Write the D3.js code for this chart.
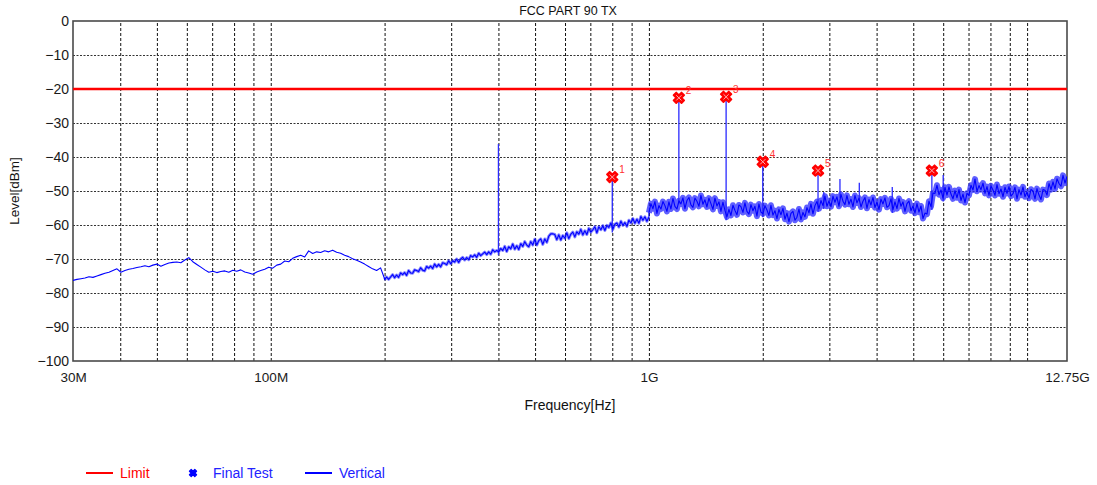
<!DOCTYPE html>
<html>
<head>
<meta charset="utf-8">
<script src="https://cdn.jsdelivr.net/npm/d3@7"></script>
<style>
  html, body { margin: 0; padding: 0; background: #ffffff; }
  svg { display: block; font-family: Arial, "Liberation Sans", sans-serif; }
</style>
</head>
<body>
<svg id="chart" width="1097" height="485"></svg>
<script>
// ---- Chart data ----------------------------------------------------------
const chartTitle = "FCC PART 90 TX";
const limitLevel = -20;                       // dBm

const yTickValues = [0, -10, -20, -30, -40, -50, -60, -70, -80, -90, -100];
const xTickHz     = [30e6, 100e6, 1e9, 12.75e9];
const xTickLabels = ["30M", "100M", "1G", "12.75G"];
const gridMHz     = [40, 50, 60, 70, 80, 90, 100, 200, 300, 400, 500, 600, 700, 800, 900,
                     1000, 2000, 3000, 4000, 5000, 6000, 7000, 8000, 9000, 10000];

// Sweep segments (start/stop MHz); points are spread evenly on the log axis.
const sweepLowRange  = [30, 200];
const sweepMidRange  = [200, 1000];
const sweepHighRange = [1000, 12750];

// 30 MHz - 200 MHz trace levels (dBm)
const sweepLowLevels = [
  -76.3, -76.0, -75.8, -75.6, -75.2, -75.4, -75.0, -74.6, -74.2, -73.9,
  -73.4, -72.9, -73.9, -73.4, -73.0, -72.8, -72.5, -72.3, -72.0, -72.3,
  -71.8, -71.5, -72.1, -71.6, -71.2, -71.0, -70.9, -71.1, -70.3, -69.6,
  -70.8, -71.6, -72.4, -73.2, -73.9, -73.6, -74.0, -73.7, -73.5, -73.9,
  -73.3, -73.6, -73.2, -73.8, -74.1, -74.5, -73.8, -73.4, -73.0, -72.4,
  -72.7, -71.8, -71.5, -70.6, -70.8, -69.8, -69.3, -68.9, -69.4, -67.6,
  -68.4, -67.9, -68.1, -67.6, -67.9, -67.4, -68.0, -68.3, -68.9, -69.3,
  -69.9, -70.4, -70.9, -71.5, -72.2, -72.9, -73.4, -72.6, -75.8
];

// 200 MHz - 1 GHz trace levels (dBm)
const sweepMidLevels = [
  -76.1, -75.3, -76.0, -75.3, -74.6, -75.5, -74.7, -75.4, -74.1, -74.6,
  -74.0, -74.8, -73.4, -74.1, -74.2, -73.2, -73.4, -73.7, -72.6, -73.3,
  -73.5, -72.2, -72.7, -72.1, -72.8, -71.5, -72.3, -71.6, -72.3, -71.1,
  -71.3, -71.7, -70.5, -71.4, -70.5, -70.9, -70.0, -71.0, -70.0, -69.5,
  -70.3, -69.6, -70.2, -69.0, -69.4, -68.8, -69.5, -68.3, -69.0, -68.5,
  -68.0, -68.7, -67.9, -68.6, -67.3, -67.9, -67.5, -67.9, -66.9, -67.5,
  -66.3, -67.8, -66.4, -67.0, -65.6, -67.1, -66.1, -67.2, -65.5, -66.3,
  -64.9, -65.9, -66.4, -64.9, -65.9, -64.2, -65.9, -64.6, -64.1, -65.7,
  -64.1, -65.1, -63.3, -62.6, -62.6, -62.8, -64.3, -62.9, -64.4, -63.1,
  -63.9, -62.3, -64.0, -62.7, -62.1, -63.5, -62.0, -62.7, -61.3, -62.9,
  -61.7, -62.8, -61.0, -62.1, -61.4, -60.5, -62.3, -60.5, -61.4, -60.2,
  -61.6, -60.1, -60.7, -59.4, -61.2, -59.8, -59.4, -60.6, -58.9, -60.1,
  -59.3, -60.4, -58.6, -59.4, -58.1, -59.5, -58.3, -59.5, -57.5, -58.6,
  -57.6, -58.9, -57.7
];

// 1 GHz - 12.75 GHz trace levels (dBm)
const sweepHighLevels = [
  -56.4, -53.7, -55.2, -53.1, -56.6, -54.3, -55.3, -53.1, -54.3, -56.0,
  -53.2, -55.3, -52.2, -54.5, -55.3, -52.9, -53.8, -52.0, -55.2, -52.8,
  -51.9, -54.1, -54.8, -52.1, -53.0, -54.5, -51.3, -53.9, -52.6, -54.7,
  -52.1, -53.7, -55.4, -52.1, -54.4, -53.2, -56.0, -53.3, -55.7, -57.6,
  -55.4, -57.2, -54.2, -55.7, -57.0, -54.1, -54.6, -56.3, -53.5, -56.0,
  -56.8, -54.0, -55.8, -54.5, -57.4, -53.8, -56.2, -56.7, -54.3, -55.6,
  -57.2, -54.2, -57.1, -55.8, -58.1, -55.4, -57.0, -55.1, -58.3, -56.5,
  -59.0, -56.6, -56.0, -58.6, -57.7, -55.3, -58.4, -56.3, -57.6, -54.9,
  -56.4, -53.8, -56.7, -54.3, -53.1, -55.2, -52.8, -54.3, -51.5, -54.5,
  -52.9, -54.6, -51.5, -53.3, -51.7, -54.5, -51.0, -53.0, -54.0, -51.3,
  -53.9, -52.4, -54.7, -51.3, -53.5, -52.1, -54.7, -53.0, -51.9, -55.1,
  -52.5, -54.1, -51.9, -54.9, -53.2, -55.5, -52.4, -53.8, -52.0, -54.8,
  -54.3, -52.3, -55.5, -53.2, -55.2, -52.2, -54.5, -53.2, -56.0, -53.7,
  -53.0, -55.8, -54.4, -56.5, -53.7, -56.2, -54.4, -58.1, -56.5, -56.8,
  -53.0, -54.6, -50.6, -50.7, -48.3, -51.1, -49.7, -52.1, -48.9, -51.2,
  -48.8, -50.9, -52.3, -49.9, -52.0, -49.6, -52.8, -50.9, -53.4, -50.7,
  -51.3, -48.3, -49.7, -46.5, -50.1, -48.4, -49.6, -47.7, -50.7, -48.7,
  -51.3, -48.5, -49.7, -51.3, -48.1, -50.8, -49.4, -51.7, -48.9, -50.7,
  -48.7, -51.5, -50.8, -48.9, -52.3, -49.6, -51.2, -48.8, -51.7, -50.3,
  -52.1, -49.5, -50.0, -52.3, -49.3, -51.2, -52.5, -49.6, -49.8, -51.2,
  -47.8, -49.6, -47.3, -49.4, -46.4, -47.8, -48.6, -45.4, -47.7, -45.7
];

// Narrow-band emissions standing out of the noise floor
const spurMHz   = [400, 800, 1200, 1600, 2000, 2800, 2900, 3200, 3600, 4400, 5600, 6000];
const spurLevel = [-36.2, -45.9, -22.6, -22.3, -41.4, -44.0, -50.3, -46.5, -47.6, -48.8, -44.0, -45.3];

// Final test points
const finalMHz    = [800, 1200, 1600, 2000, 2800, 5600];
const finalLevel  = [-45.9, -22.6, -22.3, -41.4, -44.0, -44.0];
const finalLabels = ["1", "2", "3", "4", "5", "6"];

const legendNames = ["Limit", "Final Test", "Vertical"];

// ---- Layout ----------------------------------------------------------------
const plot = { left: 73, right: 1067, top: 21, bottom: 361 };
const RED = "#ff0000", BLUE = "#0000ff";

const svg = d3.select("#chart");

const x = d3.scaleLog().domain([30e6, 12.75e9]).range([plot.left, plot.right]);
const y = d3.scaleLinear().domain([-100, 0]).range([plot.bottom, plot.top]);

// Build the trace from the sweep segments
function sweepPoints(range, levels) {
  const [f0, f1] = range;
  const n = levels.length;
  return levels.map((lv, i) => ({ f: f0 * Math.pow(f1 / f0, i / (n - 1)) * 1e6, v: lv }));
}
const lowPts  = sweepPoints(sweepLowRange, sweepLowLevels);
const midPts  = sweepPoints(sweepMidRange, sweepMidLevels);
const highPts = sweepPoints(sweepHighRange, sweepHighLevels);
const trace = [...lowPts, ...midPts, ...highPts];

// ---- Grid ------------------------------------------------------------------
const gridG = svg.append("g");
gridG.append("g")
  .attr("transform", `translate(0,${plot.bottom})`)
  .call(d3.axisBottom(x).tickValues(gridMHz.map(d => d * 1e6))
    .tickSize(-(plot.bottom - plot.top)).tickFormat(""))
  .call(g => g.select(".domain").remove())
  .call(g => g.selectAll("line")
    .attr("stroke", "#111").attr("stroke-width", 1).attr("stroke-dasharray", "3,2"));

gridG.append("g")
  .attr("transform", `translate(${plot.left},0)`)
  .call(d3.axisLeft(y).tickValues(yTickValues.filter(v => v > -100 && v < 0))
    .tickSize(-(plot.right - plot.left)).tickFormat(""))
  .call(g => g.select(".domain").remove())
  .call(g => g.selectAll("line")
    .attr("stroke", "#333").attr("stroke-width", 1).attr("stroke-dasharray", "2,1.5"));

// ---- Frame -----------------------------------------------------------------
svg.append("rect")
  .attr("x", plot.left).attr("y", plot.top)
  .attr("width", plot.right - plot.left).attr("height", plot.bottom - plot.top)
  .attr("fill", "none").attr("stroke", "#4a4a4a").attr("stroke-width", 1.6);

// ---- Axis labels -----------------------------------------------------------
svg.append("g")
  .attr("transform", `translate(${plot.left - 2},0)`)
  .call(d3.axisLeft(y).tickValues(yTickValues).tickSize(0).tickPadding(2)
    .tickFormat(d3.format("d")))
  .call(g => g.select(".domain").remove())
  .call(g => g.selectAll("text")
    .attr("font-family", "Arial, 'Liberation Sans', sans-serif")
    .attr("font-size", 14).attr("fill", "#1a1a1a"));

svg.append("g")
  .attr("transform", `translate(0,${plot.bottom})`)
  .call(d3.axisBottom(x).tickValues(xTickHz).tickSize(0).tickPadding(11)
    .tickFormat((d, i) => xTickLabels[i]))
  .call(g => g.select(".domain").remove())
  .call(g => g.selectAll("text")
    .attr("font-family", "Arial, 'Liberation Sans', sans-serif")
    .attr("font-size", 13.5).attr("fill", "#1a1a1a"));

svg.append("text")
  .attr("x", 568).attr("y", 15)
  .attr("text-anchor", "middle").attr("font-size", 12.5).attr("fill", "#111")
  .text(chartTitle);

svg.append("text")
  .attr("x", 570).attr("y", 410)
  .attr("text-anchor", "middle").attr("font-size", 14).attr("fill", "#111")
  .text("Frequency[Hz]");

svg.append("text")
  .attr("transform", `translate(19,${(plot.top + plot.bottom) / 2}) rotate(-90)`)
  .attr("text-anchor", "middle").attr("font-size", 13.5).attr("fill", "#111")
  .text("Level[dBm]");

// ---- Data layers -----------------------------------------------------------
svg.append("clipPath").attr("id", "plot-clip")
  .append("rect")
  .attr("x", plot.left).attr("y", plot.top)
  .attr("width", plot.right - plot.left).attr("height", plot.bottom - plot.top);

const data = svg.append("g").attr("clip-path", "url(#plot-clip)");
const line = d3.line().x(d => x(d.f)).y(d => y(d.v));

// Spurs: vertical spikes from the noise floor up to their level
function floorAt(fHz) {
  return d3.least(trace, p => Math.abs(Math.log(p.f) - Math.log(fHz))).v;
}
data.append("g").selectAll("line")
  .data(spurMHz.map((f, i) => ({ f: f * 1e6, v: spurLevel[i] })))
  .join("line")
  .attr("x1", d => x(d.f)).attr("x2", d => x(d.f))
  .attr("y1", d => y(d.v)).attr("y2", d => y(floorAt(d.f) - 1))
  .attr("stroke", "#2a2aff").attr("stroke-width", 1.3);

// Soft halo under the noisy parts of the sweep (the dense sample band)
data.append("path").datum(midPts)
  .attr("fill", "none").attr("stroke", "#3a3aff").attr("stroke-opacity", 0.6)
  .attr("stroke-width", 3).attr("stroke-linejoin", "round").attr("d", line);
data.append("path").datum(highPts)
  .attr("fill", "none").attr("stroke", "#2a2aff").attr("stroke-opacity", 0.75)
  .attr("stroke-width", 6).attr("stroke-linejoin", "round").attr("d", line);

// Vertical polarisation trace
data.append("path")
  .datum(trace)
  .attr("fill", "none")
  .attr("stroke", BLUE)
  .attr("stroke-width", 1.1)
  .attr("stroke-linejoin", "round")
  .attr("d", line);

// Limit line
data.append("line")
  .attr("x1", plot.left).attr("x2", plot.right)
  .attr("y1", y(limitLevel)).attr("y2", y(limitLevel))
  .attr("stroke", RED).attr("stroke-width", 2.6);

// Final test markers
const crossPath = d3.symbol().type(d3.symbolCross).size(70)();
const finalPts = finalMHz.map((f, i) => ({ f: f * 1e6, v: finalLevel[i], label: finalLabels[i] }));
const markers = data.append("g").selectAll("g")
  .data(finalPts)
  .join("g")
  .attr("transform", d => `translate(${x(d.f)},${y(d.v)})`);

markers.append("path")
  .attr("d", crossPath)
  .attr("transform", "rotate(45)")
  .attr("fill", RED).attr("stroke", RED).attr("stroke-width", 1.8)
  .attr("stroke-linejoin", "round");
markers.append("path")
  .attr("d", "M-2.6,-2.6L2.6,2.6M-2.6,2.6L2.6,-2.6")
  .attr("stroke", "#ffc0c0").attr("stroke-width", 0.9);

svg.append("g").selectAll("text")
  .data(finalPts)
  .join("text")
  .attr("x", d => x(d.f) + 7).attr("y", d => y(d.v) - 4)
  .attr("font-size", 10).attr("fill", "#ff3030")
  .text(d => d.label);

// ---- Legend ----------------------------------------------------------------
const legend = svg.append("g").attr("transform", "translate(0,473)");
legend.append("line").attr("x1", 86).attr("x2", 113).attr("y1", 0).attr("y2", 0)
  .attr("stroke", RED).attr("stroke-width", 2);
legend.append("text").attr("x", 120).attr("y", 5).attr("font-size", 14)
  .attr("fill", RED).text(legendNames[0]);

legend.append("path")
  .attr("d", d3.symbol().type(d3.symbolCross).size(32)())
  .attr("transform", "translate(193,0) rotate(45)")
  .attr("fill", BLUE).attr("stroke", BLUE).attr("stroke-width", 1.2)
  .attr("stroke-linejoin", "round");
legend.append("text").attr("x", 213).attr("y", 5).attr("font-size", 14)
  .attr("fill", "#2222ff").text(legendNames[1]);

legend.append("line").attr("x1", 305).attr("x2", 332).attr("y1", 0).attr("y2", 0)
  .attr("stroke", BLUE).attr("stroke-width", 2);
legend.append("text").attr("x", 339).attr("y", 5).attr("font-size", 14)
  .attr("fill", "#2222ff").text(legendNames[2]);
</script>
</body>
</html>
